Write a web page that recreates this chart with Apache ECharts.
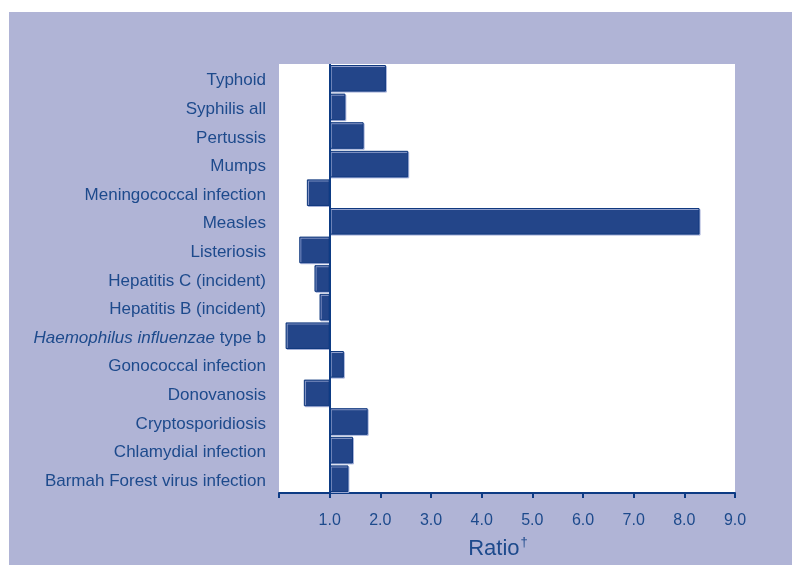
<!DOCTYPE html>
<html>
<head>
<meta charset="utf-8">
<script src="https://cdn.jsdelivr.net/npm/echarts@6/dist/echarts.min.js"></script>
<style>
  html, body { margin: 0; padding: 0; background: #ffffff; }
  #bg { position: absolute; left: 9px; top: 12px; width: 783px; height: 553px; background: #b0b4d6; }
  #chart { position: absolute; left: 0; top: 0; width: 792px; height: 565px; }
</style>
</head>
<body>
<div id="bg"></div>
<div id="chart"></div>
<script>
// Categories, top to bottom
const categories = [
  'Typhoid',
  'Syphilis all',
  'Pertussis',
  'Mumps',
  'Meningococcal infection',
  'Measles',
  'Listeriosis',
  'Hepatitis C (incident)',
  'Hepatitis B (incident)',
  'Haemophilus influenzae type b',
  'Gonococcal infection',
  'Donovanosis',
  'Cryptosporidiosis',
  'Chlamydial infection',
  'Barmah Forest virus infection'
];
// Ratio values
const ratios = [2.11, 1.31, 1.67, 2.55, 0.55, 8.30, 0.40, 0.70, 0.80, 0.13, 1.28, 0.49, 1.75, 1.46, 1.37];
const baselineValue = 1.0;
const xTickLabels = ['', '1.0', '2.0', '3.0', '4.0', '5.0', '6.0', '7.0', '8.0', '9.0'];

const baseData = ratios.map(v => Math.min(v, baselineValue));
const barData = ratios.map(v => Math.abs(v - baselineValue));

const txt = '#1d4a8c';
const axisCol = '#0d3b84';
const font = '"Liberation Sans", Arial, sans-serif';

const chart = echarts.init(document.getElementById('chart'), null, { renderer: 'canvas' });
chart.setOption({
  backgroundColor: 'transparent',
  animation: false,
  grid: {
    left: 279, right: 57, top: 64, bottom: 72,
    show: true, backgroundColor: '#ffffff', borderWidth: 0
  },
  xAxis: {
    type: 'value', min: 0, max: 9, interval: 1,
    name: '{a|Ratio}{b|†}',
    nameLocation: 'middle',
    nameGap: 43,
    nameTextStyle: {
      padding: [0, 18, 0, 0],
      rich: {
        a: { fontSize: 22, color: txt, fontFamily: font },
        b: { fontSize: 13, color: txt, fontFamily: font, padding: [0, 0, 12, 1] }
      }
    },
    axisLine: { show: true, lineStyle: { color: axisCol, width: 2 } },
    axisTick: { show: true, length: 5, lineStyle: { color: axisCol, width: 2 } },
    axisLabel: {
      color: txt, fontSize: 16, fontFamily: font, margin: 20,
      formatter: v => xTickLabels[Math.round(v)] || ''
    },
    splitLine: { show: false }
  },
  yAxis: {
    type: 'category', data: categories, inverse: true,
    axisLine: { show: false }, axisTick: { show: false },
    axisLabel: {
      color: txt, fontSize: 17, fontFamily: font, margin: 13,
      padding: [5, 0, 0, 0],
      formatter: v => v === 'Haemophilus influenzae type b' ? '{i|Haemophilus influenzae} type b' : v,
      rich: { i: { fontStyle: 'italic', color: txt, fontSize: 17, fontFamily: font } }
    }
  },
  series: [
    {
      type: 'bar', stack: 'r', data: baseData,
      itemStyle: { color: 'transparent' }, barWidth: '93%', silent: true
    },
    {
      type: 'bar', stack: 'r', data: barData, barWidth: '93%',
      itemStyle: {
        color: '#234589', borderColor: '#11397f', borderWidth: 1,
        shadowColor: 'rgba(160,172,214,0.9)', shadowOffsetX: 1, shadowOffsetY: 1, shadowBlur: 0
      },
      markLine: {
        silent: true, symbol: 'none', label: { show: false },
        lineStyle: { color: axisCol, width: 2, type: 'solid' },
        data: [{ xAxis: baselineValue }]
      }
    }
  ]
});
</script>
</body>
</html>
